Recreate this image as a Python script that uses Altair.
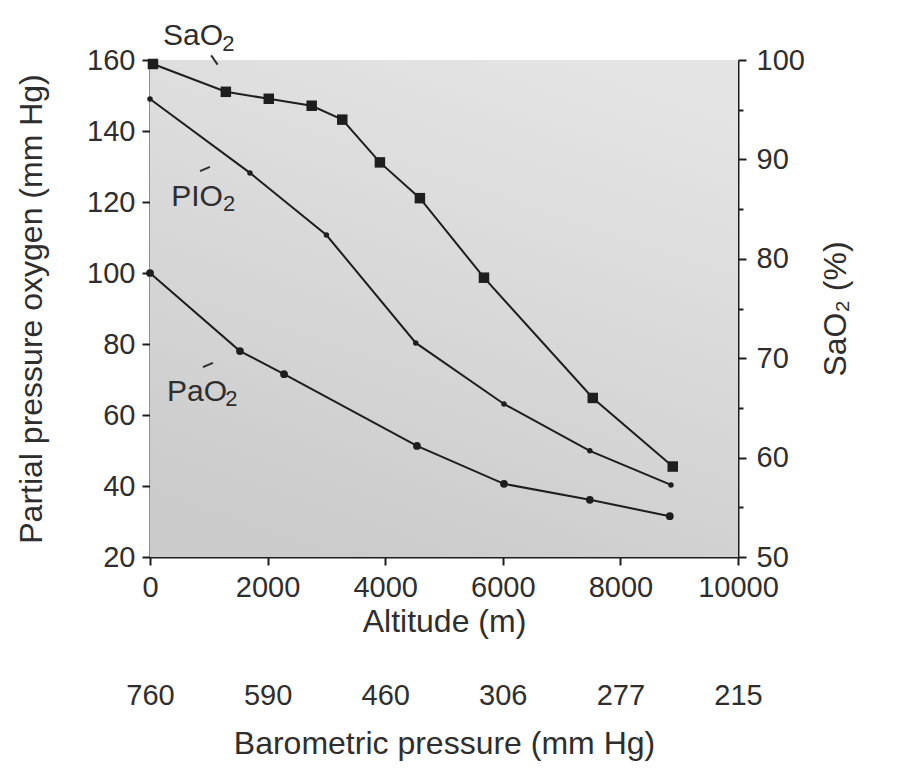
import json
import altair as alt
import pandas as pd

# ---------------- data ----------------
sao2_alt = [50, 1290, 2020, 2750, 3270, 3910, 4590, 5680, 7530, 8890]
sao2_val = [99.6, 96.8, 96.1, 95.4, 94.0, 89.7, 86.1, 78.1, 66.0, 59.1]

pio2_alt = [0, 1700, 3000, 4520, 6020, 7480, 8860]
pio2_val = [149.0, 128.2, 110.7, 80.3, 63.1, 49.9, 40.3]

pao2_alt = [0, 1530, 2280, 4540, 6020, 7480, 8840]
pao2_val = [100.0, 78.0, 71.5, 51.3, 40.6, 36.1, 31.5]

alt_ticks = [0, 2000, 4000, 6000, 8000, 10000]
press_labels = ["760", "590", "460", "306", "277", "215"]
left_ticks = [20, 40, 60, 80, 100, 120, 140, 160]
right_ticks = [50, 55, 60, 65, 70, 75, 80, 85, 90, 95, 100]

x_domain = [0, 10000]
yl_domain = [20, 160]
yr_domain = [50, 100]

# annotation labels (main part + subscript) in data units of the left axis
ann_txt = ["SaO", "PIO", "PaO"]
ann_alt = [220, 360, 290]
ann_val = [164.3, 119.0, 64.0]
sub_txt = ["2", "2", "2"]
sub_alt = [1230, 1240, 1280]
sub_val = [162.6, 117.4, 62.4]
lead_alt = [1040, 850, 900]
lead_alt2 = [1150, 1020, 1070]
lead_val = [161.3, 128.7, 73.5]
lead_val2 = [158.7, 129.9, 74.7]

# ---------------- styling ----------------
FONT = "Liberation Sans"
INK = "#1e1e1e"
TXT = "#2e2e2e"
W, H = 588, 497
LBL = 29
TTL = 32

xscale = alt.Scale(domain=x_domain, nice=False, zero=False)
xaxis = alt.Axis(values=alt_ticks, title="Altitude (m)", format="d",
                 labelFontSize=LBL, labelFont=FONT, labelColor=TXT,
                 labelFlush=False, labelOverlap=False, labelPadding=8,
                 titleFontSize=TTL, titleFont=FONT, titleFontWeight="normal",
                 titleColor=TXT, titlePadding=4,
                 tickSize=8, tickWidth=2, tickColor=INK,
                 domainColor=INK, domainWidth=2, grid=False)
ylscale = alt.Scale(domain=yl_domain, nice=False, zero=False)
ylaxis = alt.Axis(values=left_ticks, title="Partial pressure oxygen (mm Hg)",
                  labelFontSize=LBL, labelFont=FONT, labelColor=TXT,
                  labelFlush=False, labelOverlap=False, labelPadding=7,
                  titleFontSize=TTL, titleFont=FONT, titleFontWeight="normal",
                  titleColor=TXT, titlePadding=38,
                  tickSize=8, tickWidth=2, tickColor=INK,
                  domainColor=INK, domainWidth=2, grid=False)
yrscale = alt.Scale(domain=yr_domain, nice=False, zero=False)
yraxis = alt.Axis(values=right_ticks, orient="right", title="SaO₂ (%)",
                  labelExpr="datum.value % 10 == 0 ? datum.label : ''",
                  labelFontSize=LBL, labelFont=FONT, labelColor=TXT,
                  labelFlush=False, labelOverlap=False, labelPadding=10,
                  titleFontSize=TTL, titleFont=FONT, titleFontWeight="normal",
                  titleColor=TXT, titlePadding=16, titleAngle=270,
                  titleBaseline="top",
                  tickSize={"condition": {"test": "datum.value % 10 == 0", "value": 8}, "value": 5},
                  tickWidth=2, tickColor=INK,
                  domainColor=INK, domainWidth=2, grid=False)

X = lambda f="alt": alt.X(f"{f}:Q", scale=xscale, axis=xaxis)
YL = lambda f="val": alt.Y(f"{f}:Q", scale=ylscale, axis=ylaxis)
YR = lambda f="val": alt.Y(f"{f}:Q", scale=yrscale, axis=yraxis)

# ---------------- frames ----------------
bg_df = pd.DataFrame({"alt": [x_domain[0]], "alt2": [x_domain[1]],
                      "val": [yl_domain[0]], "val2": [yl_domain[1]]})
pio_df = pd.DataFrame({"alt": pio2_alt, "val": pio2_val})
pao_df = pd.DataFrame({"alt": pao2_alt, "val": pao2_val})
sao_df = pd.DataFrame({"alt": sao2_alt, "val": sao2_val})
ann_df = pd.DataFrame({"alt": ann_alt, "val": ann_val, "txt": ann_txt})
sub_df = pd.DataFrame({"alt": sub_alt, "val": sub_val, "txt": sub_txt})
lead_df = pd.DataFrame({"alt": lead_alt, "alt2": lead_alt2,
                        "val": lead_val, "val2": lead_val2})
press_df = pd.DataFrame({"alt": alt_ticks, "p": press_labels})

grad = alt.Gradient(gradient="linear",
                    stops=[alt.GradientStop(color="#e4e4e4", offset=0),
                           alt.GradientStop(color="#d8d8d8", offset=0.5),
                           alt.GradientStop(color="#cbcbcb", offset=1)],
                    x1=0.7, y1=0, x2=0.3, y2=1)

bg = alt.Chart(bg_df).mark_rect(color=grad).encode(
    x=X(), x2="alt2:Q", y=YL(), y2="val2:Q")

pio_line = alt.Chart(pio_df).mark_line(color=INK, strokeWidth=2).encode(x=X(), y=YL())
pio_pts = alt.Chart(pio_df).mark_circle(color=INK, size=30, opacity=1).encode(x=X(), y=YL())
pao_line = alt.Chart(pao_df).mark_line(color=INK, strokeWidth=2).encode(x=X(), y=YL())
pao_pts = alt.Chart(pao_df).mark_circle(color=INK, size=60, opacity=1).encode(x=X(), y=YL())

ann = alt.Chart(ann_df).mark_text(align="left", baseline="alphabetic",
                                  font=FONT, fontSize=30, color=TXT).encode(
    x=X(), y=YL(), text="txt:N")
sub = alt.Chart(sub_df).mark_text(align="left", baseline="alphabetic",
                                  font=FONT, fontSize=22, color=TXT).encode(
    x=X(), y=YL(), text="txt:N")
lead = alt.Chart(lead_df).mark_rule(color=TXT, strokeWidth=2).encode(
    x=X(), x2="alt2:Q", y=YL(), y2="val2:Q")

sao_line = alt.Chart(sao_df).mark_line(color=INK, strokeWidth=2).encode(x=X(), y=YR())
sao_pts = alt.Chart(sao_df).mark_square(color=INK, size=110, opacity=1).encode(x=X(), y=YR())

left = alt.layer(bg, pio_line, pio_pts, pao_line, pao_pts, lead, ann, sub)
right = alt.layer(sao_line, sao_pts)
main = alt.layer(left, right).resolve_scale(y="independent")

press_expr = "{}[indexof({}, datum.value)]".format(json.dumps(press_labels), json.dumps(alt_ticks))
press = alt.Chart(press_df).mark_point(opacity=0).encode(
    x=alt.X("alt:Q", scale=alt.Scale(domain=x_domain, nice=False, zero=False),
            axis=alt.Axis(values=alt_ticks, labelExpr=press_expr, orient="bottom",
                          offset=120, domain=False, ticks=False,
                          title="Barometric pressure (mm Hg)",
                          labelFontSize=LBL, labelFont=FONT, labelColor=TXT,
                          labelFlush=False, labelOverlap=False, labelPadding=4,
                          titleFontSize=TTL, titleFont=FONT, titleFontWeight="normal",
                          titleColor=TXT, titlePadding=18, grid=False)))

chart = alt.layer(main, press).resolve_scale(x="independent").properties(
    width=W, height=H,
    autosize=alt.AutoSizeParams(type="none"),
    padding={"left": 142, "top": 52, "right": 155, "bottom": 205},
    background="white",
).configure_view(stroke=None)

chart.save("out.html", embed_options={"renderer": "svg", "actions": False})
